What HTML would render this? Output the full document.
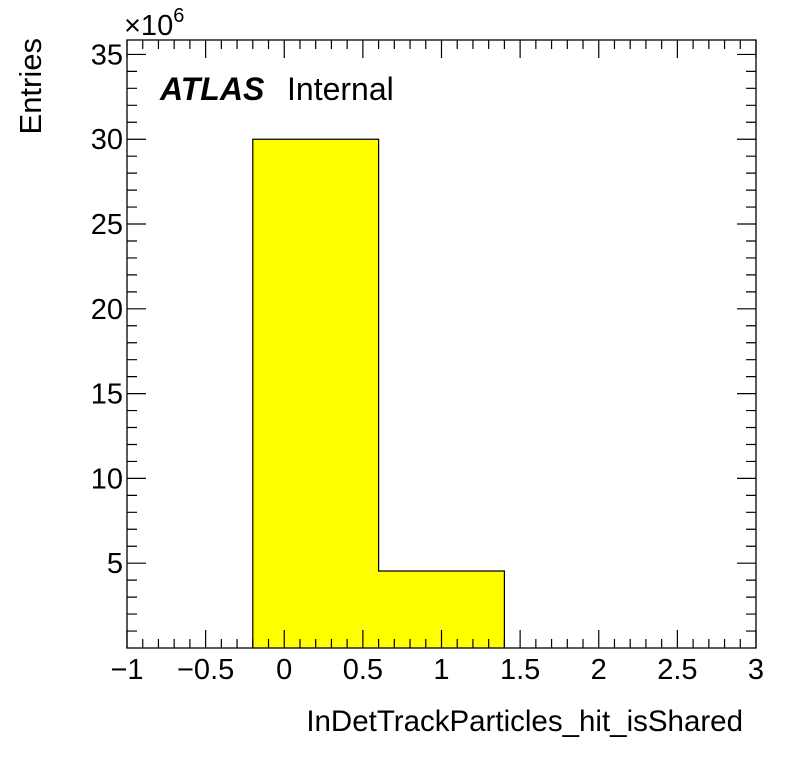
<!DOCTYPE html>
<html><head><meta charset="utf-8"><style>body{margin:0;background:#fff}svg{display:block}text{font-family:"Liberation Sans",sans-serif;fill:#000}</style></head>
<body>
<svg id="c" width="796" height="772" xmlns="http://www.w3.org/2000/svg"></svg>
<script>
const binEdges=[-0.2,0.6,1.4];
const binValues=[30.0,4.54];
const xTicks=[-1,-0.5,0,0.5,1,1.5,2,2.5,3];
const xTickLabels=["\u22121","\u22120.5","0","0.5","1","1.5","2","2.5","3"];
const yTicks=[5,10,15,20,25,30,35];
const L=127,R=756,T=40,B=648,xmin=-1,xmax=3,ymin=0,ymax=35.85;
const sx=v=>L+(v-xmin)/(xmax-xmin)*(R-L);
const sy=v=>B-(v-ymin)/(ymax-ymin)*(B-T);
const svg=document.getElementById('c');
const NS='http://www.w3.org/2000/svg';
function mk(t,a,p){const e=document.createElementNS(NS,t);for(const k in a)e.setAttribute(k,a[k]);(p||svg).appendChild(e);return e;}
let d=`M${sx(binEdges[0])},${B}`;
for(let i=0;i<binValues.length;i++){d+=` L${sx(binEdges[i])},${sy(binValues[i])} L${sx(binEdges[i+1])},${sy(binValues[i])}`;}
d+=` L${sx(binEdges[binEdges.length-1])},${B}`;
const fill=mk('path',{d:d+' Z',fill:'#ffff00',stroke:'none'});


for(let i=0;i<binValues.length;i++){
 const r=mk('rect',{x:sx(binEdges[i]),y:sy(binValues[i]),width:sx(binEdges[i+1])-sx(binEdges[i]),height:B-sy(binValues[i]),fill:'none',stroke:'none'});
 
 
}
const outl=mk('path',{d:d,fill:'none',stroke:'#000','stroke-width':1.2});


const fr=mk('rect',{x:L,y:T,width:R-L,height:B-T,fill:'none',stroke:'#000','stroke-width':1.3});


let td='';
for(let i=0;i<=40;i++){const v=xmin+i*0.1;const x=sx(v);const len=(i%5==0)?18:9;td+=`M${x},${B}v${-len}M${x},${T}v${len}`;}
for(let v=1;v<=35;v++){const y=sy(v);const len=(v%5==0)?19:10;td+=`M${L},${y}h${len}M${R},${y}h${-len}`;}
const tk=mk('path',{d:td,stroke:'#000','stroke-width':1.2,fill:'none'});


xTicks.forEach((v,i)=>{const t=mk('text',{x:sx(v),y:679,'font-size':29,'text-anchor':'middle'});t.textContent=xTickLabels[i];
 
 });
yTicks.forEach(v=>{const t=mk('text',{x:123,y:sy(v)+10,'font-size':29,'text-anchor':'end'});t.textContent=String(v);
 
 });
</script>
<svg style="position:absolute;left:0;top:0" width="796" height="772">
<text x="124" y="35" font-size="29">×10<tspan font-size="20" dy="-13">6</tspan></text>
<text x="160" y="100" font-size="32" font-weight="bold" font-style="italic">ATLAS</text>
<text x="287" y="100" font-size="32">Internal</text>
<text x="743" y="731" font-size="29.5" text-anchor="end">InDetTrackParticles_hit_isShared</text>
<text transform="translate(41,38) rotate(-90)" font-size="31" text-anchor="end">Entries</text>
</svg>
</body></html>
